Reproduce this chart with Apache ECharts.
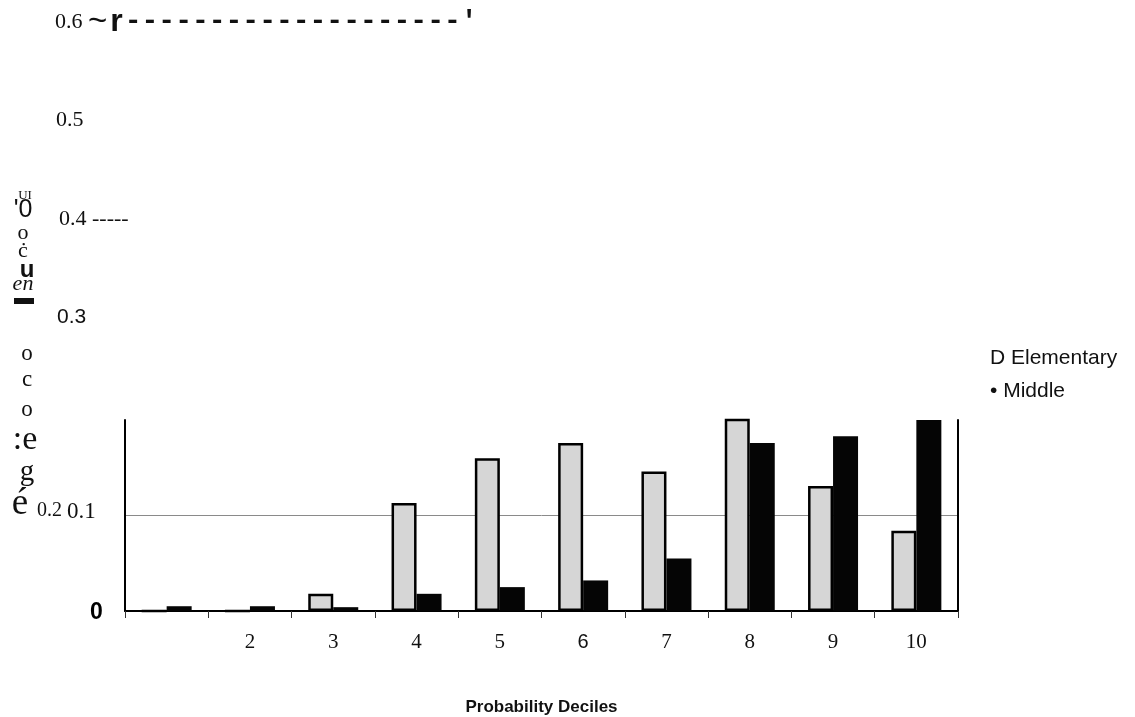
<!DOCTYPE html>
<html><head><meta charset="utf-8">
<script src="https://cdn.jsdelivr.net/npm/echarts@6/dist/echarts.min.js"></script>
<style>html,body{margin:0;padding:0;background:#fff}#c{width:1135px;height:717px}</style>
</head><body><div id="c"></div>
<script>
const categories = ['1','2','3','4','5','6','7','8','9','10'];
const xTickLabels = ['','2','3','4','5','6','7','8','9','10'];
const elementary = [0, 0, 0.018, 0.113, 0.16, 0.176, 0.146, 0.21, 0.131, 0.084];
const middle = [0.005, 0.005, 0.004, 0.018, 0.025, 0.032, 0.055, 0.176, 0.183, 0.21];
const yTickLabels = ['0', '0.2 0.1', '', '0.3', '0.4 -----', '0.5', "0.6 ~r--------------------'"];
const yTitleGlyphs = ['UI', "'0", 'o', '\u010b', 'u', 'en', '\u25ac', 'o', 'c', 'o', ':e', 'g', '\u00e9'];
const xTitle = 'Probability Deciles';

const serif = "'Liberation Serif', 'DejaVu Serif', serif";
const sans = "'Liberation Sans', Arial, sans-serif";

const glyphStyle = [
  {x:25, y:196, f:'13px ' + serif},
  {x:23, y:210, f:'25px ' + sans},
  {x:23, y:233, f:'22px ' + serif},
  {x:23, y:251, f:'22px ' + serif},
  {x:27, y:270, f:'bold 24px ' + sans},
  {x:23, y:284, f:'italic 22px ' + serif},
  {x:24, y:298, f:'20px ' + sans},
  {x:27, y:354, f:'23px ' + serif},
  {x:27, y:380, f:'23px ' + serif},
  {x:27, y:410, f:'23px ' + serif},
  {x:25, y:440, f:'34px ' + serif},
  {x:27, y:472, f:'29px ' + serif},
  {x:20, y:504, f:'37px ' + serif}
];

const chart = echarts.init(document.getElementById('c'));
chart.setOption({
  animation: false,
  backgroundColor: '#fff',
  grid: [
    {left: 125, right: 177, top: 420, bottom: 105},
    {left: 125, right: 177, top: 22, bottom: 104}
  ],
  legend: {
    orient: 'vertical', left: 980, top: 343, itemGap: 12,
    icon: 'none', itemWidth: 0, itemHeight: 0,
    selectedMode: false,
    textStyle: {fontFamily: sans, fontSize: 21, color: '#111'},
    formatter: function (n) { return (n === 'Elementary' ? 'D ' : '\u2022 ') + n; },
    data: ['Elementary', 'Middle']
  },
  xAxis: [
    {
      type: 'category', gridIndex: 0, data: categories,
      name: xTitle, nameLocation: 'middle', nameGap: 88,
      nameTextStyle: {fontFamily: sans, fontSize: 17, fontWeight: 'bold', color: '#111'},
      axisLine: {lineStyle: {color: '#000', width: 2}},
      axisTick: {show: true, length: 7, lineStyle: {color: '#333', width: 1}},
      axisLabel: {
        margin: 21, color: '#111', fontFamily: serif, fontSize: 21,
        formatter: function (v, i) { const t = xTickLabels[i]; return t === '6' ? '{s|6}' : t; },
        rich: {s: {fontFamily: sans, fontSize: 20, color: '#111'}}
      }
    },
    {type: 'value', gridIndex: 1, show: false, min: 0, max: 1}
  ],
  yAxis: [
    {
      type: 'value', gridIndex: 0, min: 0, max: 0.2, interval: 0.1,
      axisLine: {show: true, lineStyle: {color: '#000', width: 2}},
      axisTick: {show: false}, axisLabel: {show: false},
      splitLine: {show: true, showMinLine: false, showMaxLine: false, lineStyle: {color: '#8a8a8a', width: 1}}
    },
    {
      type: 'value', gridIndex: 0, position: 'right', min: 0, max: 0.2, interval: 0.1,
      axisLine: {show: true, lineStyle: {color: '#000', width: 2}},
      axisTick: {show: false}, axisLabel: {show: false}, splitLine: {show: false}
    },
    {
      type: 'value', gridIndex: 1, min: 0, max: 0.6, interval: 0.1,
      axisLine: {show: false}, axisTick: {show: false}, splitLine: {show: false},
      axisLabel: {
        show: true, align: 'left', margin: 88, color: '#111',
        formatter: function (v, i) {
          const t = yTickLabels[i];
          if (!t) return '';
          if (i === 1) { const p = t.split(' '); return '{a1|' + p[0] + ' }{b1|' + p[1] + '}'; }
          if (i === 6) { return '{a6|' + t.slice(0, 4) + '}{b6|' + t.slice(4, 5) + '}{r6|' + t.slice(5, 6) + '}{c6|' + t.slice(6) + '}'; }
          return '{t' + i + '|' + t + '}';
        },
        rich: {
          t0: {fontFamily: sans, fontSize: 23, fontWeight: 'bold', color: '#000', padding: [0, 0, 0, 53]},
          a1: {fontFamily: serif, fontSize: 20, color: '#111', padding: [0, 0, 8, 0]},
          b1: {fontFamily: serif, fontSize: 23, color: '#111', padding: [0, 0, 6, 0]},
          t3: {fontFamily: sans, fontSize: 21, color: '#111', padding: [0, 0, 0, 20]},
          t4: {fontFamily: serif, fontSize: 22, color: '#111', padding: [0, 0, 0, 22]},
          t5: {fontFamily: serif, fontSize: 22, color: '#111', padding: [0, 0, 0, 19]},
          a6: {fontFamily: serif, fontSize: 22, color: '#111', padding: [0, 0, 0, 18]},
          b6: {fontFamily: sans, fontSize: 33, color: '#111'},
          r6: {fontFamily: sans, fontSize: 32, fontWeight: 'bold', color: '#111', padding: [0, 2, 0, 3]},
          c6: {fontFamily: "'Liberation Mono', 'DejaVu Sans Mono', monospace", fontSize: 28, fontWeight: 'bold', color: '#111'}
        }
      }
    }
  ],
  graphic: yTitleGlyphs.map(function (g, i) {
    return {
      type: 'text', x: glyphStyle[i].x, y: glyphStyle[i].y, silent: true,
      style: {text: g, font: glyphStyle[i].f, fill: '#111', align: 'center', verticalAlign: 'middle'}
    };
  }),
  series: [
    {
      name: 'Elementary', type: 'bar', xAxisIndex: 0, yAxisIndex: 0, data: elementary,
      barWidth: 25, barGap: '0%', clip: true,
      itemStyle: {color: '#d6d6d6', borderColor: '#000', borderWidth: 2.5}
    },
    {
      name: 'Middle', type: 'bar', xAxisIndex: 0, yAxisIndex: 0, data: middle,
      barWidth: 25, barGap: '0%', clip: true,
      itemStyle: {color: '#050505'}
    }
  ]
});
</script></body></html>
